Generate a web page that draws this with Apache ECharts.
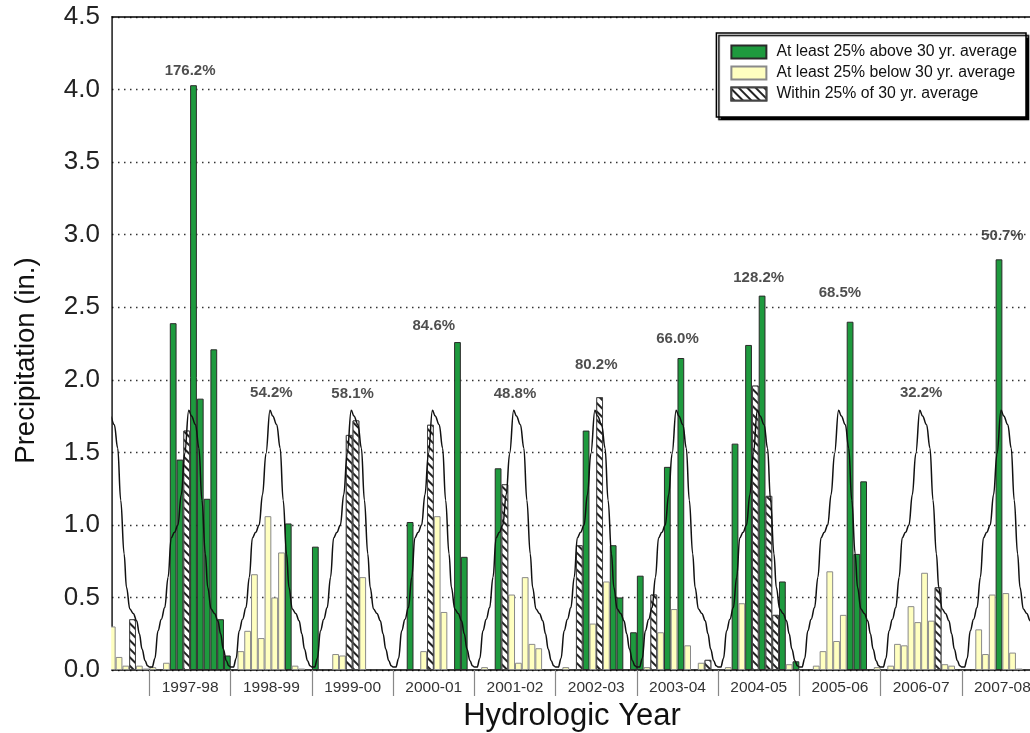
<!DOCTYPE html>
<html><head><meta charset="utf-8">
<script src="https://cdn.jsdelivr.net/npm/echarts@6/dist/echarts.min.js"></script>
<style>html,body{margin:0;padding:0;background:#fff}#c{width:1030px;height:733px}</style>
</head><body><div id="c"></div>
<script>
// Hydrologic years (July–June); month slot 0 = July 1997
const yearLabels = ['1997-98','1998-99','1999-00','2000-01','2001-02','2002-03','2003-04','2004-05','2005-06','2006-07','2007-08'];
const pctLabels = ['176.2%','54.2%','58.1%','84.6%','48.8%','80.2%','66.0%','128.2%','68.5%','32.2%','50.7%'];
const pctLabelAnchor = [4.13, 1.91, 1.90, 2.37, 1.90, 2.10, 2.28, 2.70, 2.60, 1.91, 2.99];

const firstSlot = -6; // January 1997
// monthly precipitation (in.), one row per hydrologic year
const p9697 = [0.30, 0.09, 0.03, 0.35, 0.03, 0.01];
const p9798 = [0.02, 0, 0.05, 2.39, 1.45, 1.65, 4.03, 1.87, 1.18, 2.21, 0.35, 0.10];
const p9899 = [0, 0.13, 0.27, 0.66, 0.22, 1.06, 0.50, 0.81, 1.01, 0.03, 0.01, 0];
const p9900 = [0.85, 0, 0, 0.11, 0.10, 1.62, 1.72, 0.64, 0, 0, 0, 0];
const p0001 = [0, 0, 1.02, 0, 0.13, 1.69, 1.06, 0.40, 0, 2.26, 0.78, 0];
const p0102 = [0, 0.02, 0, 1.39, 1.28, 0.52, 0.05, 0.64, 0.18, 0.15, 0, 0];
const p0203 = [0, 0.02, 0, 0.86, 1.65, 0.32, 1.88, 0.61, 0.86, 0.50, 0, 0.26];
const p0304 = [0.65, 0.02, 0.52, 0.26, 1.40, 0.42, 2.15, 0.17, 0, 0.05, 0.07, 0];
const p0405 = [0, 0.02, 1.56, 0.46, 2.24, 1.96, 2.58, 1.20, 0.38, 0.61, 0.04, 0.06];
const p0506 = [0, 0, 0.03, 0.13, 0.68, 0.20, 0.38, 2.40, 0.80, 1.30, 0, 0.02];
const p0607 = [0, 0.03, 0.18, 0.17, 0.44, 0.33, 0.67, 0.34, 0.57, 0.04, 0.03, 0];
const p0708 = [0, 0, 0.28, 0.11, 0.52, 2.83, 0.53, 0.12, 0.01];
// class of each month: A = >=25% above, B = >=25% below, W = within 25%, - = none
const c9697 = 'BBBWBB';
const c9798 = 'B-BAAWAAAAAA';
const c9899 = '-BBBBBBBABB-';
const c9900 = 'A--BBWWB----';
const c0001 = '--A-BWBB-AA-';
const c0102 = '-B-AWBBBBB--';
const c0203 = '-B-WABWBAA-A';
const c0304 = 'ABWBABAB-BW-';
const c0405 = '-BABAWAWWABA';
const c0506 = '--BBBBBAAA-B';
const c0607 = '-BBBBBBBWBB-';
const c0708 = '--BBBABBB';

// 30-yr average curve within one hydrologic year (month offset, inches)
const avgMonth = [0, 0.4, 0.8, 1.25, 1.75, 2.25, 2.75, 3.2, 3.7, 4.2, 4.7, 5.2, 5.8, 6.2, 6.8, 7.3, 7.75, 8.25, 8.6, 9.1, 9.6, 10.1, 10.5, 10.9, 11.35, 11.7];
const avgValue = [0.02, 0.02, 0.08, 0.27, 0.35, 0.43, 0.64, 0.91, 0.95, 1.00, 1.21, 1.49, 1.79, 1.75, 1.69, 1.53, 1.17, 0.80, 0.57, 0.42, 0.39, 0.34, 0.25, 0.145, 0.064, 0.03];

const precip = [].concat(p9697,p9798,p9899,p9900,p0001,p0102,p0203,p0304,p0405,p0506,p0607,p0708);
const klass = [c9697,c9798,c9899,c9900,c0001,c0102,c0203,c0304,c0405,c0506,c0607,c0708].join('');

const NAMES = {A:'At least 25% above 30 yr. average', B:'At least 25% below 30 yr. average', W:'Within 25% of 30 yr. average'};
function dataFor(code){
  const out=[];
  precip.forEach((v,i)=>{ if(klass[i]===code && v>0) out.push([firstSlot+i+0.5, v]); });
  return out;
}
const avgData=[];
for(let y=-1;y<=10;y++){ avgMonth.forEach((m,k)=>avgData.push([12*y+m, avgValue[k]])); }
avgData.push([132, avgValue[0]]);

const xMin=-5.54, xMax=132;
const gridLeft=112, gridWidth=931;
const barW=gridWidth/(xMax-xMin);
const FONT='Liberation Sans, Arial, sans-serif';

const chart=echarts.init(document.getElementById('c'),null,{renderer:'canvas'});
const barCommon={type:'bar', barWidth:barW, stack:'months', xAxisIndex:0, yAxisIndex:0};
chart.setOption({
  animation:false,
  backgroundColor:'#fff',
  grid:{left:gridLeft, width:gridWidth, top:17, bottom:63, containLabel:false, outerBoundsMode:'none'},
  legend:{
    orient:'vertical', right:4, top:33, icon:'rect',
    itemWidth:35, itemHeight:13, itemGap:5,
    padding:[11,9,15,14],
    borderColor:'#000', borderWidth:1.5, backgroundColor:'#fff',
    shadowColor:'#000', shadowOffsetX:2.5, shadowOffsetY:2.5, shadowBlur:1,
    textStyle:{fontSize:15.8, color:'#111', fontFamily:FONT, padding:[0,0,0,5]},
    data:[NAMES.A, NAMES.B, NAMES.W]
  },
  graphic:[{type:'rect', z:10, shape:{x:100, y:17, width:11.2, height:653}, style:{fill:'#fff'}, silent:true}],
  xAxis:[{
    type:'value', min:xMin, max:xMax, position:'bottom',
    axisLine:{show:true, onZero:false, lineStyle:{color:'#000', width:1.5}},
    axisTick:{show:true, customValues:yearLabels.map((_,i)=>12*i).concat([132]), length:26, inside:false, lineStyle:{color:'#888', width:1.2}},
    axisLabel:{show:true, customValues:yearLabels.map((_,i)=>12*i+6), formatter:v=>yearLabels[Math.round((v-6)/12)], fontSize:15.5, color:'#333', fontFamily:FONT, margin:10},
    splitLine:{show:false},
    name:'Hydrologic Year', nameLocation:'middle', nameGap:31,
    nameTextStyle:{fontSize:31, color:'#111', fontFamily:FONT, padding:[0,11,0,0]}
  },{
    type:'value', min:xMin, max:xMax, position:'top',
    axisLine:{show:true, onZero:false, lineStyle:{color:'#000', width:1.5}},
    axisTick:{show:false}, axisLabel:{show:false}, splitLine:{show:false}
  }],
  yAxis:{
    type:'value', min:0, max:4.5, interval:0.5,
    axisLine:{show:true, onZero:false, lineStyle:{color:'#000', width:1.5}},
    axisTick:{show:false},
    axisLabel:{formatter:v=>v.toFixed(1), fontSize:26, color:'#222', fontFamily:FONT, margin:12},
    splitLine:{show:true, lineStyle:{color:'#333', type:[1.5,4.5], width:1.3}},
    name:'Precipitation (in.)', nameLocation:'middle', nameGap:72,
    nameTextStyle:{fontSize:27.5, color:'#111', fontFamily:FONT, padding:[0,34,0,0]}
  },
  series:[
    Object.assign({}, barCommon, {name:NAMES.A, data:dataFor('A'),
      itemStyle:{color:'#1e9a3e', borderColor:'#2a2a2a', borderWidth:1}}),
    Object.assign({}, barCommon, {name:NAMES.B, data:dataFor('B'),
      itemStyle:{color:'#ffffc0', borderColor:'#8a8a8a', borderWidth:1}}),
    Object.assign({}, barCommon, {name:NAMES.W, data:dataFor('W'),
      itemStyle:{color:'#ffffff', borderColor:'#444', borderWidth:1,
        decal:{symbol:'rect', symbolSize:1, dashArrayX:[1,0], dashArrayY:[2,3.5], rotation:Math.PI/4, color:'#222', backgroundColor:'#fff'}}}),
    {type:'line', name:'30 yr. average', data:avgData, smooth:0.4, smoothMonotone:'x', showSymbol:false, symbol:'none',
      lineStyle:{color:'#111', width:1.5}, xAxisIndex:0, yAxisIndex:0, z:5, silent:true, clip:true},
    {type:'scatter', name:'pct', data:pctLabels.map((t,i)=>[12*i+6, pctLabelAnchor[i]]),
      symbolSize:1, itemStyle:{color:'rgba(0,0,0,0)'}, silent:true, z:6,
      label:{show:true, position:'inside', formatter:p=>pctLabels[p.dataIndex], fontSize:15, fontWeight:'bold', color:'#222', fontFamily:FONT}}
  ]
});
</script></body></html>
